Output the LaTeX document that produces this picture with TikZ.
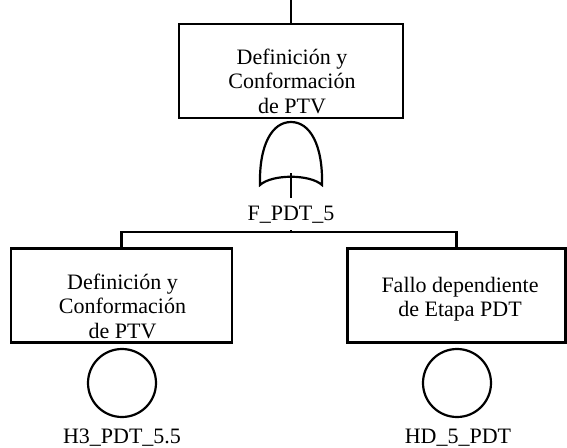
\documentclass[tikz,border=0pt]{standalone}
\usepackage{fontspec}
\setmainfont{Liberation Serif}
\tikzset{
  evento/.style={draw,line width=2.2pt,rectangle,minimum height=94pt},
  texto/.style={align=center,inner sep=0pt,font=\fontsize{22}{24.5}\selectfont},
  basico/.style={draw,line width=2.2pt,circle,minimum size=68pt,inner sep=0pt},
  etiqueta/.style={inner xsep=1pt,inner ysep=7pt,font=\fontsize{22}{24.5}\selectfont},
  linea/.style={line width=2.2pt}
}
\begin{document}
\begin{tikzpicture}[x=1pt,y=-1pt]
\useasboundingbox (0,0) rectangle (567,447);
\coordinate (arriba) at (291,0);
\node[evento,minimum width=224pt] (top) at (291,71) {};
\node[texto] (toptxt) at (292,81) {Definición y\\Conformación\\de PTV};
% compuerta O
\coordinate (gbase) at (291,173);
\draw[linea] (260,185) .. controls (259,145) and (272,122) .. (291,122)
  .. controls (310,122) and (323,145) .. (322,185)
  .. controls (310,174) and (272,174) .. (260,185) -- cycle;
\node[etiqueta,anchor=base] (gate) at (291,220) {F\_PDT\_5};
\coordinate (barra) at (291,232);
\node[evento,minimum width=221pt] (izq) at (121.5,295.5) {};
\node[texto] (izqtxt) at (122.5,306) {Definición y\\Conformación\\de PTV};
\node[evento,minimum width=218pt] (der) at (456.5,295.5) {};
\node[texto] (dertxt) at (460,299) {Fallo dependiente\\de Etapa PDT};
\node[basico] (h3) at (122,383) {};
\node[basico] (hd) at (457,383) {};
\node[etiqueta,anchor=base] (h3txt) at (122,443) {H3\_PDT\_5.5};
\node[etiqueta,anchor=base] (hdtxt) at (458,443) {HD\_5\_PDT};
\draw[linea] (arriba) -- (top.north);
\draw[linea] (gbase) -- (gate.north);
\draw[linea] (gate.south) -- (barra);
\draw[linea] (izq.north) |- (barra) -| (der.north);
\end{tikzpicture}
\end{document}
